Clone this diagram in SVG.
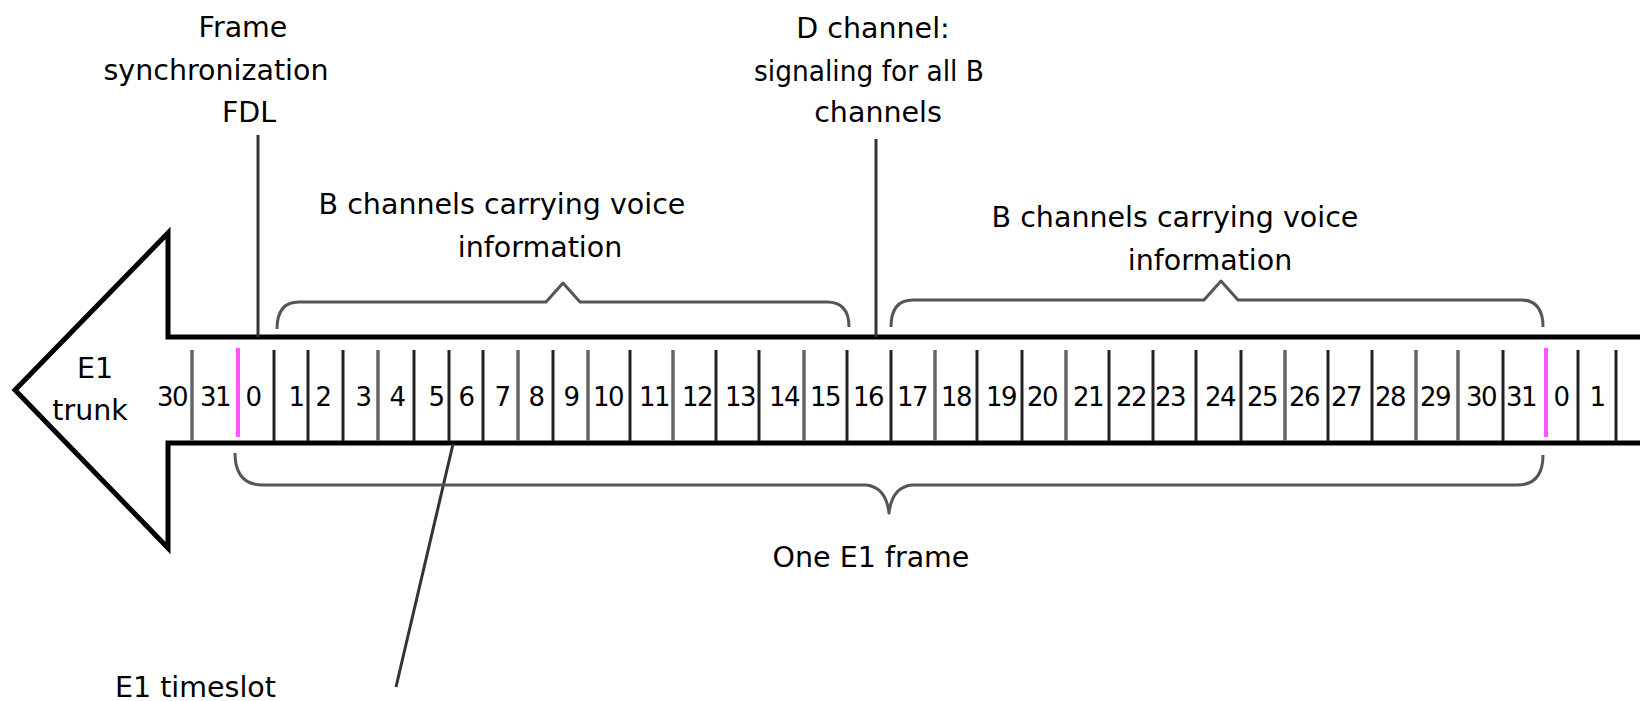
<svg xmlns="http://www.w3.org/2000/svg" width="1640" height="701" viewBox="0 0 1640 701">
<style>
.lbl{font-family:"DejaVu Sans","Liberation Sans",sans-serif;font-size:28.5px;fill:#000;text-anchor:middle}
.num{font-family:"DejaVu Sans","Liberation Sans",sans-serif;font-size:26px;fill:#000;text-anchor:middle;letter-spacing:-1.5px}
.dv{stroke:#222;stroke-width:3}
.dg{stroke:#666;stroke-width:3.5}
.mg{stroke:#ff55ff;stroke-width:4}
.br{fill:none;stroke:#555;stroke-width:3;stroke-linejoin:round}
.ld{stroke:#333;stroke-width:3;fill:none}
</style>
<rect width="1640" height="701" fill="#fff"/>
<g id="trunk">
<path d="M1640,337 L168,337 L168,233 L15,390 L168,548 L168,443 L1640,443" fill="#fff" stroke="#000" stroke-width="5" stroke-linejoin="miter"/>
<text class="lbl" x="95" y="378">E1</text>
<text class="lbl" x="90" y="420">trunk</text>
</g>
<g id="timeslots">
<line class="dg" x1="192" y1="350" x2="192" y2="441" stroke-width="5"/>
<line class="mg" x1="238" y1="348" x2="238" y2="437"/>
<line class="dv" x1="274" y1="350" x2="274" y2="441"/>
<line class="dv" x1="308" y1="350" x2="308" y2="441"/>
<line class="dv" x1="343" y1="350" x2="343" y2="441"/>
<line class="dg" x1="378" y1="350" x2="378" y2="441"/>
<line class="dv" x1="414" y1="350" x2="414" y2="441"/>
<line class="dv" x1="449" y1="350" x2="449" y2="441"/>
<line class="dv" x1="483" y1="350" x2="483" y2="441"/>
<line class="dg" x1="518" y1="350" x2="518" y2="441"/>
<line class="dv" x1="553" y1="350" x2="553" y2="441"/>
<line class="dg" x1="588" y1="350" x2="588" y2="441"/>
<line class="dv" x1="630" y1="350" x2="630" y2="441"/>
<line class="dg" x1="673" y1="350" x2="673" y2="441"/>
<line class="dv" x1="716" y1="350" x2="716" y2="441"/>
<line class="dv" x1="759" y1="350" x2="759" y2="441"/>
<line class="dg" x1="804" y1="350" x2="804" y2="441"/>
<line class="dv" x1="847" y1="350" x2="847" y2="441"/>
<line class="dv" x1="891" y1="350" x2="891" y2="441"/>
<line class="dg" x1="935" y1="350" x2="935" y2="441"/>
<line class="dv" x1="977" y1="350" x2="977" y2="441"/>
<line class="dv" x1="1022" y1="350" x2="1022" y2="441"/>
<line class="dg" x1="1066" y1="350" x2="1066" y2="441"/>
<line class="dv" x1="1109" y1="350" x2="1109" y2="441"/>
<line class="dv" x1="1153" y1="350" x2="1153" y2="441"/>
<line class="dv" x1="1196" y1="350" x2="1196" y2="441"/>
<line class="dv" x1="1241" y1="350" x2="1241" y2="441"/>
<line class="dg" x1="1285" y1="350" x2="1285" y2="441"/>
<line class="dv" x1="1328" y1="350" x2="1328" y2="441"/>
<line class="dv" x1="1372" y1="350" x2="1372" y2="441"/>
<line class="dg" x1="1416" y1="350" x2="1416" y2="441" stroke-width="5"/>
<line class="dg" x1="1458" y1="350" x2="1458" y2="441"/>
<line class="dv" x1="1503" y1="350" x2="1503" y2="441"/>
<line class="mg" x1="1546" y1="348" x2="1546" y2="437"/>
<line class="dv" x1="1578" y1="350" x2="1578" y2="441"/>
<line class="dv" x1="1616" y1="350" x2="1616" y2="441"/>
<text class="num" x="172" y="406">30</text>
<text class="num" x="215" y="406">31</text>
<text class="num" x="253" y="406">0</text>
<text class="num" x="296" y="406">1</text>
<text class="num" x="323" y="406">2</text>
<text class="num" x="363" y="406">3</text>
<text class="num" x="397" y="406">4</text>
<text class="num" x="436" y="406">5</text>
<text class="num" x="466" y="406">6</text>
<text class="num" x="502" y="406">7</text>
<text class="num" x="536" y="406">8</text>
<text class="num" x="571" y="406">9</text>
<text class="num" x="608" y="406">10</text>
<text class="num" x="654" y="406">11</text>
<text class="num" x="697" y="406">12</text>
<text class="num" x="740" y="406">13</text>
<text class="num" x="784" y="406">14</text>
<text class="num" x="825" y="406">15</text>
<text class="num" x="868" y="406">16</text>
<text class="num" x="912" y="406">17</text>
<text class="num" x="956" y="406">18</text>
<text class="num" x="1001" y="406">19</text>
<text class="num" x="1042" y="406">20</text>
<text class="num" x="1088" y="406">21</text>
<text class="num" x="1131" y="406">22</text>
<text class="num" x="1170" y="406">23</text>
<text class="num" x="1220" y="406">24</text>
<text class="num" x="1262" y="406">25</text>
<text class="num" x="1304" y="406">26</text>
<text class="num" x="1346" y="406">27</text>
<text class="num" x="1390" y="406">28</text>
<text class="num" x="1435" y="406">29</text>
<text class="num" x="1481" y="406">30</text>
<text class="num" x="1521" y="406">31</text>
<text class="num" x="1561" y="406">0</text>
<text class="num" x="1597" y="406">1</text>
</g>
<g id="label-fdl">
<text class="lbl" x="243" y="37">Frame</text>
<text class="lbl" x="216" y="80">synchronization</text>
<text class="lbl" x="249" y="122">FDL</text>
</g>
<g id="label-dchannel">
<text class="lbl" x="873" y="38">D channel:</text>
<text class="lbl" x="869" y="81" textLength="230" lengthAdjust="spacingAndGlyphs">signaling for all B</text>
<text class="lbl" x="878" y="122">channels</text>
</g>
<g id="label-b-left">
<text class="lbl" x="502" y="214">B channels carrying voice</text>
<text class="lbl" x="540" y="257">information</text>
</g>
<g id="label-b-right">
<text class="lbl" x="1175" y="227">B channels carrying voice</text>
<text class="lbl" x="1210" y="270">information</text>
</g>
<g id="label-frame">
<text class="lbl" x="871" y="567">One E1 frame</text>
</g>
<g id="label-timeslot">
<text class="lbl" x="115" y="697" style="text-anchor:start">E1 timeslot</text>
</g>
<g id="connectors">
<line class="ld" x1="258" y1="135" x2="258" y2="337"/>
<line class="ld" x1="876" y1="139" x2="876" y2="337" stroke-width="2.5"/>
<line class="ld" x1="453" y1="444" x2="396" y2="687" stroke-width="2.5"/>
<path class="br" d="M277,329 Q277,302 299,302 L546,302 L563,283 L580,302 L827,302 Q849,302 849,327"/>
<path class="br" d="M891,327 Q891,300 913,300 L1204,300 L1221,281 L1238,300 L1521,300 Q1543,300 1543,327"/>
<path class="br" d="M235,453 Q235,485 263,485 L866,485 Q886,487 889,513 Q892,487 912,485 L1517,485 Q1543,485 1543,455"/>
</g>
</svg>
